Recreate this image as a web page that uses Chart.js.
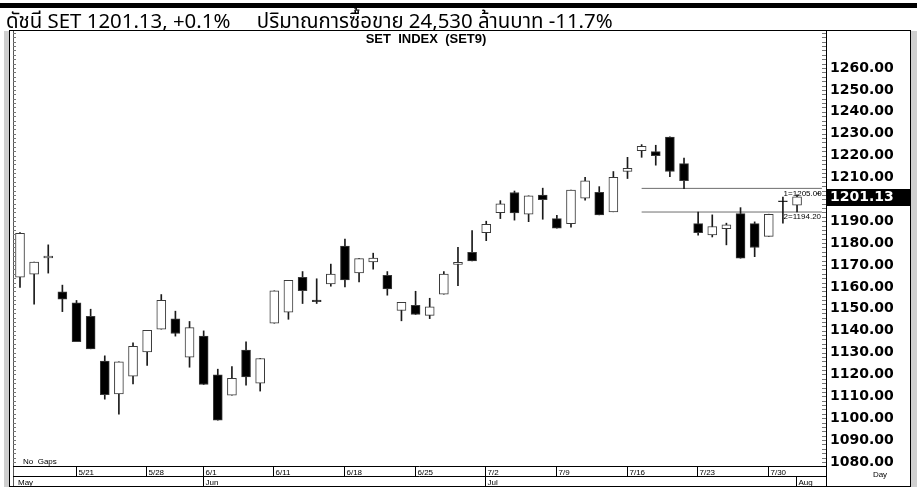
<!DOCTYPE html>
<html>
<head>
<meta charset="utf-8">
<script src="https://cdn.jsdelivr.net/npm/chart.js@4.4.1/dist/chart.umd.min.js"></script>
<style>
html,body{margin:0;padding:0;background:#fff;}
#wrap{position:relative;width:917px;height:487px;overflow:hidden;background:#fff;}
#c{position:absolute;left:0;top:0;}
#title{position:absolute;left:6px;top:10px;font-family:"Noto Sans Thai","Loma","Tahoma","Noto Sans",sans-serif;font-size:20.4px;line-height:23px;white-space:nowrap;color:#000;}
</style>
</head>
<body>
<div id="wrap">
<canvas id="c" width="917" height="487"></canvas>
<div id="title">ดัชนี SET 1201.13, +0.1%&nbsp;&nbsp;&nbsp;&nbsp;&nbsp;ปริมาณการซื้อขาย 24,530 ล้านบาท -11.7%</div>
</div>
<script>
// ---- data ----
const dates = ['5/15','5/16','5/17','5/18','5/21','5/22','5/23','5/24','5/25','5/28','5/29','5/30','5/31','6/1',
  '6/5','6/6','6/7','6/8','6/11','6/12','6/13','6/14','6/15','6/18','6/19','6/20','6/21','6/22',
  '6/25','6/26','6/27','6/28','6/29','7/2','7/3','7/4','7/5','7/6','7/9','7/10','7/11','7/12','7/13',
  '7/16','7/17','7/18','7/19','7/20','7/23','7/24','7/25','7/26','7/27','7/30','7/31','8/1'];
const opens = [1164.4,1165.8,1173.2,1157.7,1152.7,1146.6,1126.1,1111.1,1119.2,1130.3,
  1140.7,1145.4,1127.9,1137.5,1119.8,1110.5,1131.1,1116.0,1143.4,1148.4,
  1164.4,1154.0,1161.4,1178.6,1166.4,1171.4,1165.3,1149.2,1151.6,1147.0,
  1156.7,1170.3,1175.8,1184.8,1193.9,1203.1,1193.2,1201.9,1191.2,1188.9,
  1200.5,1203.2,1194.3,1212.7,1222.2,1221.8,1228.4,1216.3,1188.9,1183.7,
  1186.6,1193.5,1188.9,1183.1,1199.3,1197.3];
const highs = [1184.8,1171.3,1179.2,1160.8,1153.8,1149.8,1128.5,1125.8,1134.4,1140.2,
  1156.5,1148.9,1144.2,1139.9,1122.4,1123.6,1134.9,1127.3,1158.2,1163.0,
  1167.0,1163.7,1170.4,1181.8,1172.9,1175.4,1167.0,1152.9,1158.0,1154.8,
  1167.0,1178.1,1185.7,1190.0,1199.4,1203.8,1201.6,1205.1,1192.7,1204.2,
  1210.1,1205.8,1212.7,1219.2,1225.0,1224.7,1228.6,1218.9,1194.2,1192.9,
  1189.1,1196.2,1189.7,1193.2,1201.0,1202.1];
const lows = [1159.7,1152.1,1166.3,1148.7,1135.0,1131.7,1108.7,1101.9,1115.7,1124.1,
  1140.7,1137.5,1123.3,1115.4,1099.1,1110.5,1115.1,1112.4,1143.4,1145.2,
  1152.4,1152.4,1160.3,1160.0,1162.3,1168.1,1156.2,1144.5,1147.4,1145.5,
  1156.7,1160.6,1171.9,1181.1,1191.2,1190.5,1189.8,1190.9,1186.8,1187.3,
  1199.6,1192.9,1194.3,1209.5,1219.2,1215.6,1210.4,1204.9,1183.6,1182.8,
  1179.2,1173.1,1173.8,1183.1,1189.1,1194.2];
const closes = [1184.5,1171.3,1174.1,1154.4,1135.0,1131.7,1110.8,1125.8,1132.8,1140.2,
  1153.8,1138.7,1141.4,1115.4,1099.1,1118.2,1118.9,1127.3,1158.2,1163.0,
  1158.3,1153.2,1165.8,1163.2,1172.9,1173.2,1159.1,1152.9,1147.4,1150.9,
  1165.9,1171.2,1171.9,1188.6,1197.9,1193.8,1201.6,1199.9,1186.8,1204.2,
  1208.5,1192.9,1210.1,1214.2,1224.2,1220.0,1212.7,1208.5,1184.8,1187.6,
  1188.4,1173.1,1178.0,1193.2,1198.9,1201.13];
const yTickLabels = [1080,1090,1100,1110,1120,1130,1140,1150,1160,1170,1180,1190,1210,1220,1230,1240,1250,1260];
const dateTickLabels = ['5/21','5/28','6/1','6/11','6/18','6/25','7/2','7/9','7/16','7/23','7/30'];
const monthLabels = ['May','Jun','Jul','Aug'];
const monthStarts = ['5/15','6/1','7/2','8/1'];
const lastValue = 1201.13;
const levelValues = [1205.00, 1194.20];
const levelLabels = ['1=1205.00', '2=1194.20'];
const levelStart = '7/17';

// ---- chart ----
const idx = dates.map((d, i) => i);
const wickData = idx.map(i => ({x: i, y: [lows[i], highs[i]]}));
const bodyData = idx.map(i => ({x: i, y: [opens[i], closes[i]]}));
const bodyColors = idx.map(i => closes[i] >= opens[i] ? '#ffffff' : '#000000');
const lsIdx = dates.indexOf(levelStart);
const levelDatasets = levelValues.map(v => ({
  type: 'line', data: [{x: lsIdx, y: v}, {x: 56.76, y: v}],
  borderColor: '#6e6e6e', borderWidth: 1, pointRadius: 0, order: 3
}));

const FONT_AX = '"DejaVu Sans", sans-serif';
const FONT_SM = '"Liberation Sans", Arial, sans-serif';

const overlay = {
  id: 'overlay',
  beforeDraw(chart) {
    const c = chart.ctx;
    c.save(); c.fillStyle = '#fff'; c.fillRect(0, 0, chart.width, chart.height); c.restore();
  },
  afterDraw(chart) {
    const c = chart.ctx, a = chart.chartArea, xs = chart.scales.x, ys = chart.scales.y;
    const L = (x1, y1, x2, y2, col, w) => { c.strokeStyle = col || '#000'; c.lineWidth = w || 1; c.beginPath(); c.moveTo(x1, y1); c.lineTo(x2, y2); c.stroke(); };
    c.save();
    // top black bar
    c.fillStyle = '#000'; c.fillRect(0, 3, 917, 5);
    // side bands
    c.fillStyle = '#cfcfcf'; c.fillRect(4, 31, 5, 456); c.fillRect(911, 31, 6, 456);
    // frame
    L(9.5, 31, 9.5, 487, '#000');
    L(9, 30.5, 911, 30.5, '#000');
    L(910.5, 31, 910.5, 487, '#000');
    L(a.left + 0.5, a.top, a.left + 0.5, a.bottom + 20, '#555');
    // minor ticks
    for (let v = 1078; v <= 1276; v += 2) {
      const y = Math.round(ys.getPixelForValue(v)) + 0.5;
      L(a.left, y, a.left + 3, y, '#777');
      L(a.right - 4, y, a.right, y, '#777');
    }
    // title inside plot
    c.fillStyle = '#000'; c.font = 'bold 13px ' + FONT_SM; c.textAlign = 'center'; c.textBaseline = 'alphabetic';
    c.fillText('SET  INDEX  (SET9)', 426, 43);
    // date strip
    const r0 = a.bottom, r1 = a.bottom + 10, r2 = a.bottom + 20;
    L(a.left, r0 + 0.5, a.right, r0 + 0.5, '#000');
    L(a.left, r1 + 0.5, a.right, r1 + 0.5, '#000');
    L(9, r2 + 0.5, 911, r2 + 0.5, '#000');
    L(a.right + 0.5, r0, a.right + 0.5, r2, '#000');
    c.font = '8px ' + FONT_SM; c.textAlign = 'left'; c.fillStyle = '#000';
    dateTickLabels.forEach(lbl => {
      const x = Math.round(xs.getPixelForValue(dates.indexOf(lbl))) - 0.5;
      L(x, r0, x, r1, '#000');
      c.fillText(lbl, x + 2, r1 - 1.5);
    });
    monthLabels.forEach((lbl, k) => {
      const i = dates.indexOf(monthStarts[k]);
      if (k === 0) { c.fillText(lbl, a.left + 5, r2 - 1.5); return; }
      const x = Math.round(xs.getPixelForValue(i)) - 0.5;
      L(x, r1, x, r2, '#000');
      c.fillText(lbl, x + 2, r2 - 1.5);
    });
    c.fillText('No  Gaps', a.left + 10, a.bottom - 2);
    c.textAlign = 'center';
    c.fillText('Day', 880, r1 + 1);
    // level labels
    c.textAlign = 'left'; c.textBaseline = 'top'; c.font = '8px ' + FONT_SM;
    levelValues.forEach((v, k) => {
      const y = ys.getPixelForValue(v);
      c.fillText(levelLabels[k], xs.getPixelForValue(54.05), y + 1);
    });
    c.textBaseline = 'middle';
    c.fillText('+', xs.getPixelForValue(56.35), ys.getPixelForValue(1202.4));
    // last value box
    const yv = ys.getPixelForValue(lastValue);
    c.fillStyle = '#000'; c.fillRect(a.right, Math.round(yv) - 8, 84, 17);
    c.fillStyle = '#fff'; c.font = 'bold 14px ' + FONT_AX; c.textAlign = 'left'; c.textBaseline = 'middle';
    c.fillText(lastValue.toFixed(2), a.right + 4, yv + 0.5);
    c.restore();
  }
};

new Chart(document.getElementById('c'), {
  type: 'bar',
  data: {
    datasets: [
      {label: 'wick', data: wickData, backgroundColor: '#1a1a1a', barThickness: 1, grouped: false, order: 2},
      {label: 'body', data: bodyData, backgroundColor: bodyColors, borderColor: '#3a3a3a', borderWidth: 1,
       borderSkipped: false, barThickness: 9, grouped: false, order: 1},
      ...levelDatasets
    ]
  },
  options: {
    responsive: false, animation: false, devicePixelRatio: 1,
    layout: {padding: {left: 13, right: 7, top: 31, bottom: 21}},
    plugins: {legend: {display: false}, tooltip: {enabled: false}, title: {display: false}},
    scales: {
      x: {type: 'linear', min: -0.4955, max: 57.05, display: false, offset: false},
      y: {
        type: 'linear', position: 'right', min: 1078.17, max: 1276.9,
        afterBuildTicks: s => { s.ticks = yTickLabels.map(v => ({value: v})); },
        afterFit: s => { s.width = 84; },
        ticks: {autoSkip: false, padding: 4, color: '#000', font: {family: FONT_AX, weight: 'bold', size: 14},
                callback: v => Number(v).toFixed(2)},
        grid: {drawOnChartArea: false, drawTicks: false},
        border: {display: true, color: '#000'}
      }
    }
  },
  plugins: [overlay]
});
</script>
</body>
</html>
